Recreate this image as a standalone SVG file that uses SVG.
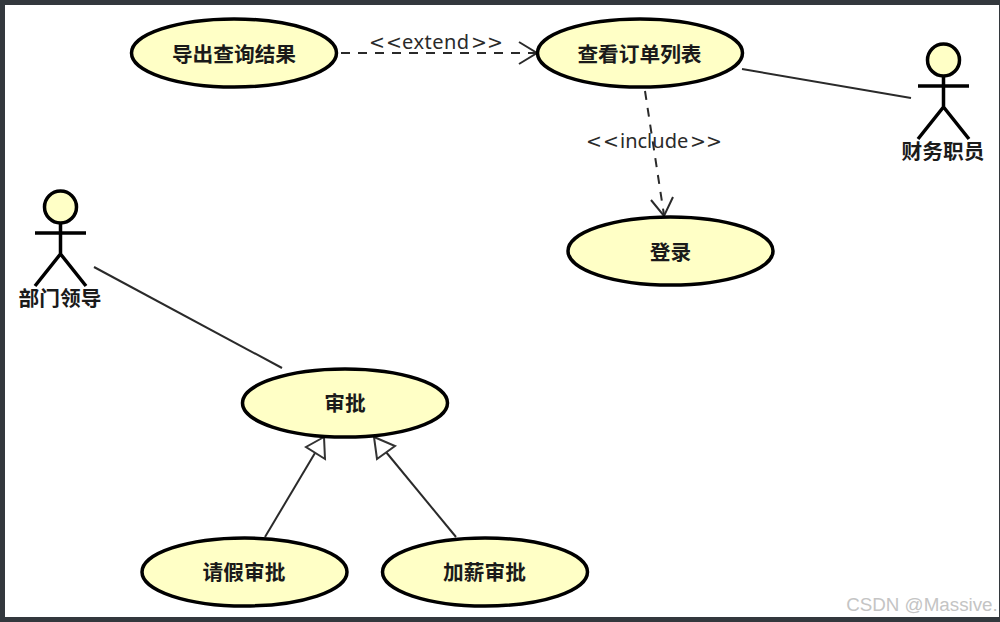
<svg xmlns="http://www.w3.org/2000/svg" width="1000" height="622" viewBox="0 0 1000 622">
<style>
.uc{fill:#ffffc6;stroke:#000;stroke-width:3.5}
.head{fill:#ffffc6;stroke:#000;stroke-width:3.5}
.limb{fill:none;stroke:#000;stroke-width:3.5}
.t{font-family:"Noto Sans CJK SC","Noto Sans",sans-serif;font-size:20.700px;font-weight:700;fill:#1a1a1a;text-anchor:middle}
.s{font-family:"Noto Sans","Noto Sans CJK SC",sans-serif;font-size:20px;fill:#2a2a2a}
.b{font-family:"DejaVu Sans",sans-serif;font-size:19px}
.c{fill:none;stroke:#2a2a2a;stroke-width:2}
.d{stroke-dasharray:9 8}
.g{fill:#fff;stroke:#333;stroke-width:2}
</style>
<rect width="1000" height="622" fill="#33383d"/>
<rect x="5" y="5" width="994" height="612" fill="#fff"/>
<g id="connectors">
<path class="c d" d="M341 53H536"/>
<path class="c" d="M519 42L537 53L519 64"/>
<path class="c" d="M742 69L911 98"/>
<path class="c d" d="M645 91L664 215"/>
<path class="c" d="M651 200L664 216L673 197"/>
<path class="c" d="M94 267L282 368"/>
<path class="c" d="M265 537L315 453"/>
<polygon class="g" points="324,437 306,447 325,459"/>
<path class="c" d="M456 537L386 452"/>
<polygon class="g" points="374,437 395,446 377,459"/>
</g>
<g id="uc-export"><ellipse class="uc" cx="234" cy="53" rx="102.500" ry="34"/><text class="t" x="234" y="62">导出查询结果</text></g>
<g id="uc-view"><ellipse class="uc" cx="640" cy="53" rx="102.500" ry="34"/><text class="t" x="639.500" y="62">查看订单列表</text></g>
<g id="uc-login"><ellipse class="uc" cx="670.500" cy="251" rx="102.500" ry="34"/><text class="t" x="670.500" y="260">登录</text></g>
<g id="uc-approve"><ellipse class="uc" cx="345" cy="403" rx="102.500" ry="34"/><text class="t" x="345" y="411">审批</text></g>
<g id="uc-leave"><ellipse class="uc" cx="244.500" cy="572" rx="102.500" ry="34"/><text class="t" x="244" y="580">请假审批</text></g>
<g id="uc-raise"><ellipse class="uc" cx="485" cy="572" rx="102.500" ry="34"/><text class="t" x="484.500" y="580">加薪审批</text></g>
<g id="actor-finance">
<circle class="head" cx="943.500" cy="60" r="16"/>
<path class="limb" d="M943.500 76V107M918 86H969M918 139L943.500 107L969 139"/>
<text class="t" x="943" y="159">财务职员</text>
</g>
<g id="actor-leader">
<circle class="head" cx="60.500" cy="207" r="16"/>
<path class="limb" d="M60.500 223V254M35 233H86M35 286L60.500 254L86 286"/>
<text class="t" x="60" y="306">部门领导</text>
</g>
<g id="labels">
<text class="s" y="49"><tspan class="b" x="369 386">&lt;&lt;</tspan><tspan x="402" letter-spacing="0.500">extend</tspan><tspan class="b" x="471 487">&gt;&gt;</tspan></text>
<text class="s" y="148"><tspan class="b" x="586 603">&lt;&lt;</tspan><tspan x="620">include</tspan><tspan class="b" x="690 706">&gt;&gt;</tspan></text>
<text x="922" y="611" font-family="Liberation Sans,sans-serif" font-size="18.800" fill="#c4c4c4" text-anchor="middle">CSDN @Massive.</text>
</g>
</svg>
